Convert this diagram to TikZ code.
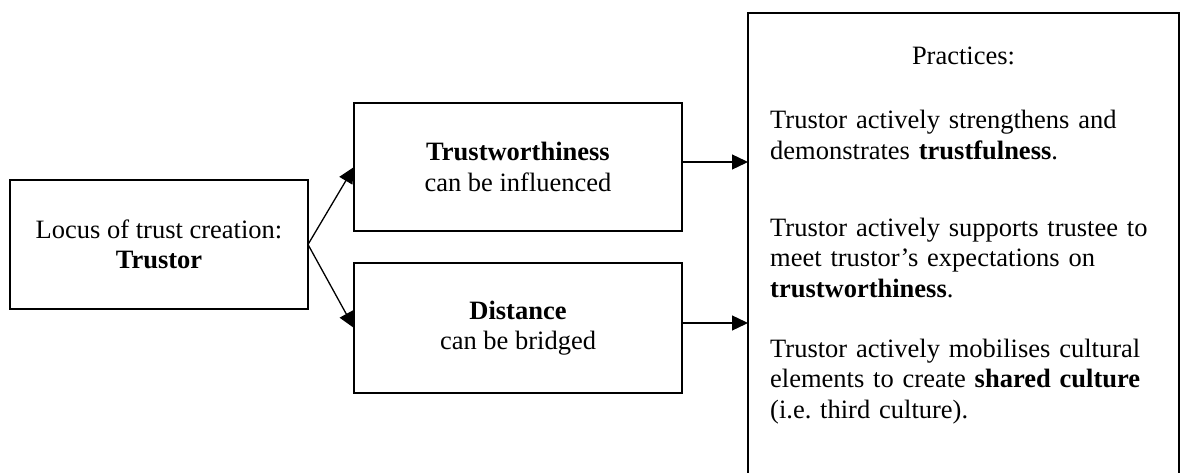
\documentclass[tikz,border=0pt]{standalone}
\usepackage{fontspec}
\setmainfont{Liberation Serif}
\usetikzlibrary{arrows.meta}
\frenchspacing

\begin{document}
\begin{tikzpicture}[x=1pt,y=-1pt,
  txt/.style={font=\fontsize{26.5}{30.5}\selectfont},
  box/.style={txt, draw, line width=2.8pt, rectangle, inner sep=0pt,
    outer sep=0pt, align=center},
  para/.style={txt, anchor=base west, inner sep=0pt, text width=400pt,
    align=left},
  link/.style={line width=1.3pt, -{Triangle[length=16pt,width=15pt]}}]
\clip (0,0) rectangle (1182,473);

% source and the two levers
\node[box, minimum width=298pt, minimum height=129pt] (locus) at (159,244.5)
  {Locus of trust creation:\\\textbf{Trustor}};
\node[box, minimum width=328pt, minimum height=128pt] (worth) at (518,167)
  {\textbf{Trustworthiness}\\can be influenced};
\node[box, minimum width=328pt, minimum height=130pt] (dist) at (518,328)
  {\textbf{Distance}\\can be bridged};

% practices panel, running off the lower edge
\node[box, anchor=north west, minimum width=431pt, minimum height=600pt]
  (pract) at (748,13) {};
\node[txt, anchor=base, inner sep=0pt] (practhead) at (963.5,65) {Practices:};
\node[para] (practa) at (770,129)
  {Trustor actively strengthens and\\demonstrates \textbf{trustfulness}.};
\node[para] (practb) at (770,236)
  {Trustor actively supports trustee to\\meet trustor’s expectations on\\\textbf{trustworthiness}.};
\node[para] (practc) at (770,357)
  {Trustor actively mobilises cultural\\elements to create \textbf{shared culture}\\(i.e. third culture).};

% connectors
\draw[link] (locus.east) -- (worth.west);
\draw[link] (locus.east) -- (dist.west);
\draw[link] ([yshift=5pt]worth.east) -- ([yshift=5pt]worth.east -| pract.west);
\draw[link] ([yshift=5pt]dist.east) -- ([yshift=5pt]dist.east -| pract.west);
\end{tikzpicture}
\end{document}
